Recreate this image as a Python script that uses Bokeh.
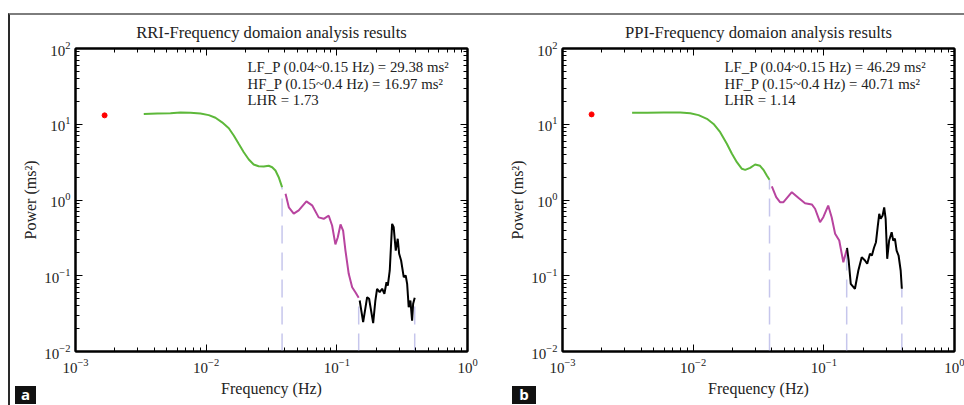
from bokeh.plotting import figure
from bokeh.models import Label, LogAxis, LogTicker, Spacer, CustomJSTickFormatter, LogTickFormatter, Div
from bokeh.layouts import row, column
from bokeh.embed import file_html
from bokeh.resources import INLINE

# ---------------- data ----------------
# Panel a: RRI
rri_dc_f = [0.00167]
rri_dc_p = [13.1]
rri_vlf_f = [0.00333, 0.00422, 0.00533, 0.00635, 0.00759, 0.00904, 0.01047, 0.01178, 0.01324, 0.0149,
             0.01626, 0.01774, 0.0194, 0.0212, 0.0231, 0.0252, 0.0276, 0.0301, 0.0320, 0.0339, 0.0359, 0.0381]
rri_vlf_p = [13.7, 13.9, 14.0, 14.3, 14.2, 13.9, 13.2, 12.2, 10.6, 8.87,
             7.10, 5.52, 4.27, 3.42, 2.94, 2.79, 2.77, 2.83, 2.71, 2.45, 2.00, 1.48]
rri_lf_f = [0.0405, 0.0429, 0.0468, 0.0511, 0.0585, 0.0647, 0.0726, 0.0794, 0.0867, 0.092,
            0.0975, 0.1016, 0.1067, 0.1117, 0.1164, 0.1233, 0.131, 0.1387, 0.147]
rri_lf_p = [1.21, 0.80, 0.66, 0.73, 0.96, 0.85, 0.59, 0.565, 0.62, 0.46,
            0.26, 0.32, 0.475, 0.395, 0.215, 0.106, 0.0706, 0.0607, 0.0512]
rri_hf_f = [0.1496, 0.159, 0.1706, 0.1766, 0.1897, 0.1972, 0.2032, 0.2128, 0.2223, 0.2312,
            0.2399, 0.2455, 0.2541, 0.2649, 0.2723, 0.2825, 0.2924, 0.2999, 0.3104, 0.3251,
            0.3365, 0.3452, 0.3548, 0.3656, 0.3767, 0.3837, 0.3945]
rri_hf_p = [0.0471, 0.0244, 0.0521, 0.0497, 0.0237, 0.0471, 0.0673, 0.0607, 0.0673, 0.0578,
            0.0822, 0.0743, 0.1175, 0.485, 0.4375, 0.215, 0.308, 0.195, 0.159, 0.0957,
            0.1007, 0.0783, 0.0385, 0.0471, 0.0256, 0.0427, 0.0512]
rri_texts = ["LF_P (0.04~0.15 Hz) = 29.38 ms\u00b2",
             "HF_P (0.15~0.4 Hz) = 16.97 ms\u00b2",
             "LHR = 1.73"]

# Panel b: PPI
ppi_dc_f = [0.00167]
ppi_dc_p = [13.5]
ppi_vlf_f = [0.00341, 0.00444, 0.00594, 0.00797, 0.00950, 0.0110, 0.01274, 0.01432, 0.0161, 0.0181,
             0.0198, 0.0216, 0.0236, 0.0250, 0.0273, 0.0298, 0.0325, 0.0345, 0.0366, 0.0384]
ppi_vlf_p = [14.2, 14.2, 14.3, 14.3, 14.0, 13.2, 11.8, 10.1, 7.85, 5.52,
             4.07, 3.16, 2.58, 2.50, 2.66, 2.94, 2.83, 2.50, 2.11, 1.85]
ppi_lf_f = [0.0400, 0.0432, 0.0462, 0.0491, 0.0569, 0.0638, 0.0718, 0.0809, 0.0857, 0.0935,
            0.0991, 0.108, 0.1148, 0.122, 0.1312, 0.141, 0.1496]
ppi_lf_p = [1.51, 1.09, 0.935, 0.935, 1.27, 1.07, 0.908, 0.873, 0.766, 0.509,
            0.593, 0.845, 0.593, 0.358, 0.292, 0.151, 0.22]
ppi_hf_f = [0.1505, 0.1549, 0.1607, 0.173, 0.1837, 0.195, 0.2065, 0.2148, 0.2254, 0.2333,
            0.242, 0.2506, 0.2582, 0.2655, 0.2723, 0.2818, 0.2897, 0.2972, 0.3055, 0.3162,
            0.3304, 0.3396, 0.35, 0.3606, 0.3733, 0.3873, 0.3954]
ppi_hf_p = [0.234, 0.159, 0.0783, 0.0673, 0.1173, 0.176, 0.159, 0.144, 0.195, 0.185,
            0.234, 0.277, 0.4375, 0.658, 0.565, 0.624, 0.80, 0.565, 0.1675, 0.292,
            0.376, 0.292, 0.308, 0.215, 0.185, 0.1173, 0.0673]
ppi_texts = ["LF_P (0.04~0.15 Hz) = 46.29 ms\u00b2",
             "HF_P (0.15~0.4 Hz) = 40.71 ms\u00b2",
             "LHR = 1.14"]

# ---------------- styling ----------------
SERIF = "Liberation Serif"
GREEN = "#5db83a"
PURPLE = "#b8449f"
DASH = "#c6c6ec"
TXT = "#222222"
FIG_H = 390
TOP, BOTTOM = 33, 54


def style_axis(ax, show_labels):
    ax.ticker = LogTicker(num_minor_ticks=10)
    ax.axis_line_color = "black"
    ax.axis_line_width = 2
    ax.major_tick_in = 7
    ax.major_tick_out = 0
    ax.minor_tick_in = 4
    ax.minor_tick_out = 0
    ax.major_tick_line_color = "black"
    ax.minor_tick_line_color = "black"
    ax.major_tick_line_width = 1
    ax.minor_tick_line_width = 1
    if show_labels:
        ax.formatter = LogTickFormatter()
        ax.major_label_text_font = SERIF
        ax.major_label_text_font_size = "15px"
        ax.major_label_text_color = TXT
        ax.major_label_standoff = 5
    else:
        ax.formatter = CustomJSTickFormatter(code="return ''")
        ax.major_label_text_font_size = "1px"
        ax.major_label_standoff = 0
    ax.axis_label_text_font = SERIF
    ax.axis_label_text_font_size = "16px"
    ax.axis_label_text_font_style = "normal"
    ax.axis_label_text_color = TXT


def make_panel(title, dc_f, dc_p, vlf_f, vlf_p, lf_f, lf_p, hf_f, hf_p, texts,
               width, left, right, text_dx):
    p = figure(width=width, height=FIG_H, x_axis_type="log", y_axis_type="log",
               x_range=(1e-3, 1.0), y_range=(1e-2, 1e2),
               output_backend="svg", toolbar_location=None,
               min_border_left=left, min_border_right=right,
               min_border_top=TOP, min_border_bottom=BOTTOM)
    p.xgrid.visible = False
    p.ygrid.visible = False
    p.outline_line_color = "black"
    p.outline_line_width = 2
    p.background_fill_color = "white"
    p.border_fill_color = "white"
    bottom_ax = p.below[0]
    left_ax = p.left[0]
    top_ax = LogAxis()
    right_ax = LogAxis()
    p.add_layout(top_ax, "above")
    p.add_layout(right_ax, "right")
    style_axis(bottom_ax, True)
    style_axis(left_ax, True)
    style_axis(top_ax, False)
    style_axis(right_ax, False)
    bottom_ax.major_label_standoff = 7
    bottom_ax.axis_label = "Frequency (Hz)"
    bottom_ax.axis_label_standoff = 4
    left_ax.axis_label = "Power (ms\u00b2)"
    left_ax.axis_label_standoff = 2
    top_ax.axis_label = title
    top_ax.axis_label_standoff = 7
    top_ax.axis_label_text_font_size = "16.6px"

    # dashed band boundaries (at the end of each band curve)
    edge_x = [vlf_f[-1], lf_f[-1], hf_f[-1]]
    edge_top = [vlf_p[-1], lf_p[-1], hf_p[-1]]
    p.segment(x0=edge_x, y0=[1e-2] * 3, x1=edge_x, y1=edge_top,
              line_color=DASH, line_width=1.5, line_dash="18 9")

    p.line(vlf_f, vlf_p, line_color=GREEN, line_width=2)
    p.line(lf_f, lf_p, line_color=PURPLE, line_width=2)
    p.line(hf_f, hf_p, line_color="black", line_width=2)
    p.scatter(dc_f, dc_p, size=5, color="red", line_color="red")

    # info text
    for i, t in enumerate(texts):
        p.add_layout(Label(x=1e-3, y=1e2, x_offset=text_dx, y_offset=-18.5 - 16.7 * i,
                           text=t, text_align="left", text_baseline="middle",
                           text_font=SERIF, text_font_size="14.8px", text_color=TXT))
    return p


def letter_div(letter, w):
    return Div(text=letter, width=w, height=18,
               styles={"background-color": "#111111", "color": "white",
                       "font-family": "Open Sans", "font-weight": "bold",
                       "font-size": "15px", "line-height": "16px",
                       "text-align": "center", "overflow": "visible"})


p1 = make_panel("RRI-Frequency domaion analysis results", rri_dc_f, rri_dc_p,
                rri_vlf_f, rri_vlf_p, rri_lf_f, rri_lf_p, rri_hf_f, rri_hf_p, rri_texts,
                472, 65, 15, 172)
p2 = make_panel("PPI-Frequency domaion analysis results", ppi_dc_f, ppi_dc_p,
                ppi_vlf_f, ppi_vlf_p, ppi_lf_f, ppi_lf_p, ppi_hf_f, ppi_hf_p, ppi_texts,
                482, 80, 10, 162)

letters = row(letter_div("a", 21), Spacer(width=466, height=18), letter_div("b", 24),
              margin=(-18, 0, 0, 0),
              styles={"z-index": "10", "position": "relative", "top": "-6px"})
inner = column(row(p1, p2), letters,
               styles={"border-top": "2px solid #7d7d7d", "border-left": "2px solid #2a2a2a"})
layout = column(Spacer(width=10, height=13), row(Spacer(width=8, height=10), inner))

open("out.html", "w").write(file_html(layout, INLINE))
